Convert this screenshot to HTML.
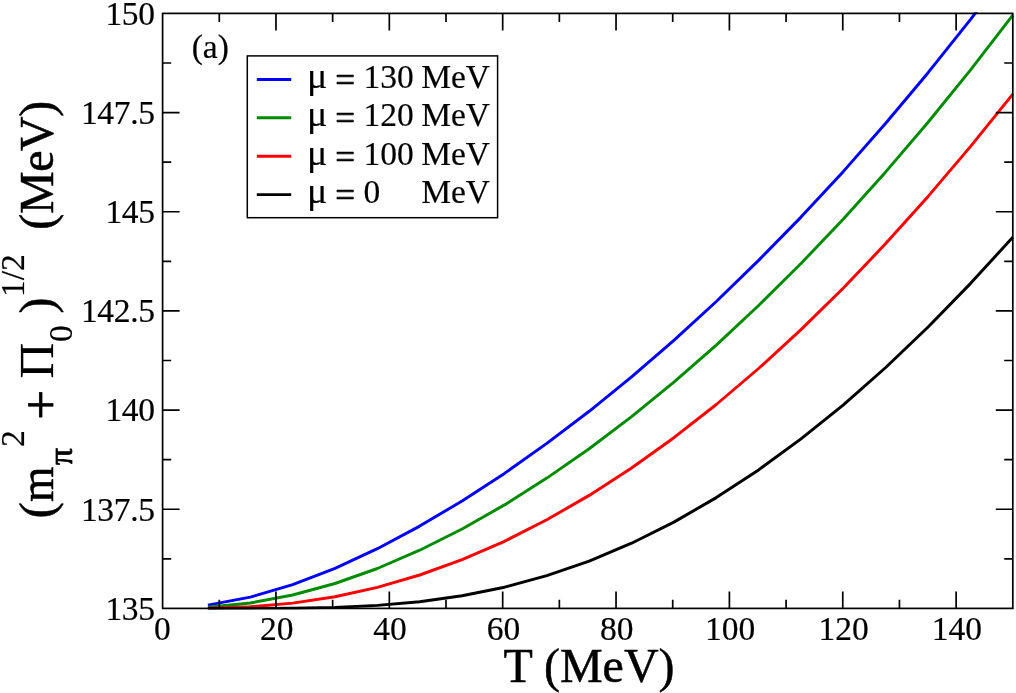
<!DOCTYPE html>
<html><head><meta charset="utf-8"><title>plot</title>
<style>
html,body{margin:0;padding:0;background:#fff;}
svg{display:block;will-change:transform;}
text{font-family:"Liberation Serif","DejaVu Serif",serif;fill:#000;stroke:#000;stroke-width:0.2px;stroke-linejoin:round;}
.t{font-size:33.5px;}
.l{font-size:48px;stroke-width:0.5px;}
</style></head><body>
<svg width="1016" height="693" viewBox="0 0 1016 693">
<rect width="1016" height="693" fill="#fff"/>
<defs><clipPath id="c"><rect x="161.4" y="12.2" width="852.6" height="597.4"/></clipPath></defs>

<g clip-path="url(#c)" fill="none" stroke-width="2.95" stroke-linejoin="round">
<polyline stroke="#0000ff" points="207.9,605.1 250.3,597.1 292.7,584.6 335.0,568.3 377.4,548.7 419.7,526.1 462.1,501.0 504.5,473.4 546.8,443.4 589.2,411.3 631.6,376.9 673.9,340.3 716.3,301.5 758.6,260.4 801.0,217.1 843.4,171.4 885.7,123.3 928.1,72.7 970.4,19.6 1012.8,-36.2"/>
<polyline stroke="#008b00" points="207.9,607.2 250.3,603.0 292.7,595.0 335.0,583.5 377.4,568.5 419.7,550.2 462.1,529.0 504.5,504.9 546.8,478.1 589.2,448.7 631.6,416.6 673.9,382.1 716.3,345.1 758.6,305.5 801.0,263.5 843.4,219.0 885.7,171.9 928.1,122.3 970.4,70.1 1012.8,15.2"/>
<polyline stroke="#ff0000" points="207.9,608.2 250.3,606.8 292.7,603.1 335.0,596.7 377.4,587.4 419.7,575.0 462.1,559.7 504.5,541.3 546.8,519.8 589.2,495.4 631.6,468.0 673.9,437.7 716.3,404.5 758.6,368.5 801.0,329.6 843.4,288.0 885.7,243.6 928.1,196.4 970.4,146.6 1012.8,94.1"/>
<polyline stroke="#000000" points="207.9,608.4 250.3,608.4 292.7,608.2 335.0,607.4 377.4,605.4 419.7,601.7 462.1,595.8 504.5,587.2 546.8,575.7 589.2,561.1 631.6,543.2 673.9,522.1 716.3,497.6 758.6,469.9 801.0,438.9 843.4,404.8 885.7,367.5 928.1,327.0 970.4,283.6 1012.8,237.2"/>
</g>
<path d="M219.28 608.40v-8.6M219.28 13.40v8.6M275.96 608.40v-17.0M275.96 13.40v17.0M332.64 608.40v-8.6M332.64 13.40v8.6M389.32 608.40v-17.0M389.32 13.40v17.0M446.00 608.40v-8.6M446.00 13.40v8.6M502.68 608.40v-17.0M502.68 13.40v17.0M559.36 608.40v-8.6M559.36 13.40v8.6M616.04 608.40v-17.0M616.04 13.40v17.0M672.72 608.40v-8.6M672.72 13.40v8.6M729.40 608.40v-17.0M729.40 13.40v17.0M786.08 608.40v-8.6M786.08 13.40v8.6M842.76 608.40v-17.0M842.76 13.40v17.0M899.44 608.40v-8.6M899.44 13.40v8.6M956.12 608.40v-17.0M956.12 13.40v17.0M162.60 558.82h8.6M1012.80 558.82h-8.6M162.60 509.23h17.0M1012.80 509.23h-17.0M162.60 459.65h8.6M1012.80 459.65h-8.6M162.60 410.07h17.0M1012.80 410.07h-17.0M162.60 360.48h8.6M1012.80 360.48h-8.6M162.60 310.90h17.0M1012.80 310.90h-17.0M162.60 261.32h8.6M1012.80 261.32h-8.6M162.60 211.73h17.0M1012.80 211.73h-17.0M162.60 162.15h8.6M1012.80 162.15h-8.6M162.60 112.57h17.0M1012.80 112.57h-17.0M162.60 62.98h8.6M1012.80 62.98h-8.6" stroke="#000" stroke-width="1.7" fill="none"/>
<rect x="162.6" y="13.4" width="850.2" height="595.0" fill="none" stroke="#000" stroke-width="1.7"/>
<text class="t" x="162.4" y="640.3" text-anchor="middle">0</text>
<text class="t" x="276.7" y="640.3" text-anchor="middle">20</text>
<text class="t" x="390.0" y="640.3" text-anchor="middle">40</text>
<text class="t" x="503.4" y="640.3" text-anchor="middle">60</text>
<text class="t" x="616.7" y="640.3" text-anchor="middle">80</text>
<text class="t" x="730.1" y="640.3" text-anchor="middle">100</text>
<text class="t" x="843.5" y="640.3" text-anchor="middle">120</text>
<text class="t" x="956.8" y="640.3" text-anchor="middle">140</text>
<text class="t" x="154.6" y="619.7" text-anchor="end" letter-spacing="-0.35">135</text>
<text class="t" x="154.6" y="520.5" text-anchor="end" letter-spacing="-0.35">137.5</text>
<text class="t" x="154.6" y="421.4" text-anchor="end" letter-spacing="-0.35">140</text>
<text class="t" x="154.6" y="322.2" text-anchor="end" letter-spacing="-0.35">142.5</text>
<text class="t" x="154.6" y="223.0" text-anchor="end" letter-spacing="-0.35">145</text>
<text class="t" x="154.6" y="123.9" text-anchor="end" letter-spacing="-0.35">147.5</text>
<text class="t" x="154.6" y="24.7" text-anchor="end" letter-spacing="-0.35">150</text>
<text class="l" x="589.0" y="682.3" text-anchor="middle">T (MeV)</text>
<text class="t" x="191.7" y="58.2">(a)</text>
<rect x="247.3" y="55.9" width="250.3" height="161.8" fill="#fff" stroke="#000" stroke-width="1.5"/>
<path d="M256.8 79.4H291.2" stroke="#0000ff" stroke-width="2.95"/>
<text class="t" transform="translate(307.0,88.0) scale(1.08,1)" style="font-size:35.2px;stroke-width:0.15px">μ</text>
<text class="t" x="345.0" y="92.0" text-anchor="middle" style="font-size:35px;stroke-width:0.7px">=</text>
<text class="t" x="363.5" y="88.0">130</text>
<text class="t" x="421.2" y="88.0">MeV</text>
<path d="M256.8 117.8H291.2" stroke="#008b00" stroke-width="2.95"/>
<text class="t" transform="translate(307.0,126.4) scale(1.08,1)" style="font-size:35.2px;stroke-width:0.15px">μ</text>
<text class="t" x="345.0" y="130.4" text-anchor="middle" style="font-size:35px;stroke-width:0.7px">=</text>
<text class="t" x="363.5" y="126.4">120</text>
<text class="t" x="421.2" y="126.4">MeV</text>
<path d="M256.8 156.2H291.2" stroke="#ff0000" stroke-width="2.95"/>
<text class="t" transform="translate(307.0,164.8) scale(1.08,1)" style="font-size:35.2px;stroke-width:0.15px">μ</text>
<text class="t" x="345.0" y="168.8" text-anchor="middle" style="font-size:35px;stroke-width:0.7px">=</text>
<text class="t" x="363.5" y="164.8">100</text>
<text class="t" x="421.2" y="164.8">MeV</text>
<path d="M256.8 194.6H291.2" stroke="#000000" stroke-width="2.95"/>
<text class="t" transform="translate(307.0,203.2) scale(1.08,1)" style="font-size:35.2px;stroke-width:0.15px">μ</text>
<text class="t" x="345.0" y="207.2" text-anchor="middle" style="font-size:35px;stroke-width:0.7px">=</text>
<text class="t" x="363.5" y="203.2">0</text>
<text class="t" x="421.2" y="203.2">MeV</text>
<g transform="translate(53.1,516) rotate(-90)">
<text class="l" x="-2.3" y="0">(</text>
<text class="l" transform="translate(14.0,0) scale(0.95,1)">m</text>
<text class="t" x="51.0" y="18.6" style="stroke-width:0.8px">π</text>
<text class="t" x="69" y="-28.9">2</text>
<text x="111.3" y="4.9" font-size="53" text-anchor="middle" style="stroke-width:0.8px">+</text>
<text x="155.35" y="0" font-size="49.5" text-anchor="middle">Π</text>
<text class="t" x="174" y="18.6">0</text>
<text class="l" x="202.5" y="0">)</text>
<text class="t" x="219" y="-28.9">1/2</text>
<text class="l" x="286.3" y="0" letter-spacing="-0.4">(MeV)</text>
</g>
</svg></body></html>
